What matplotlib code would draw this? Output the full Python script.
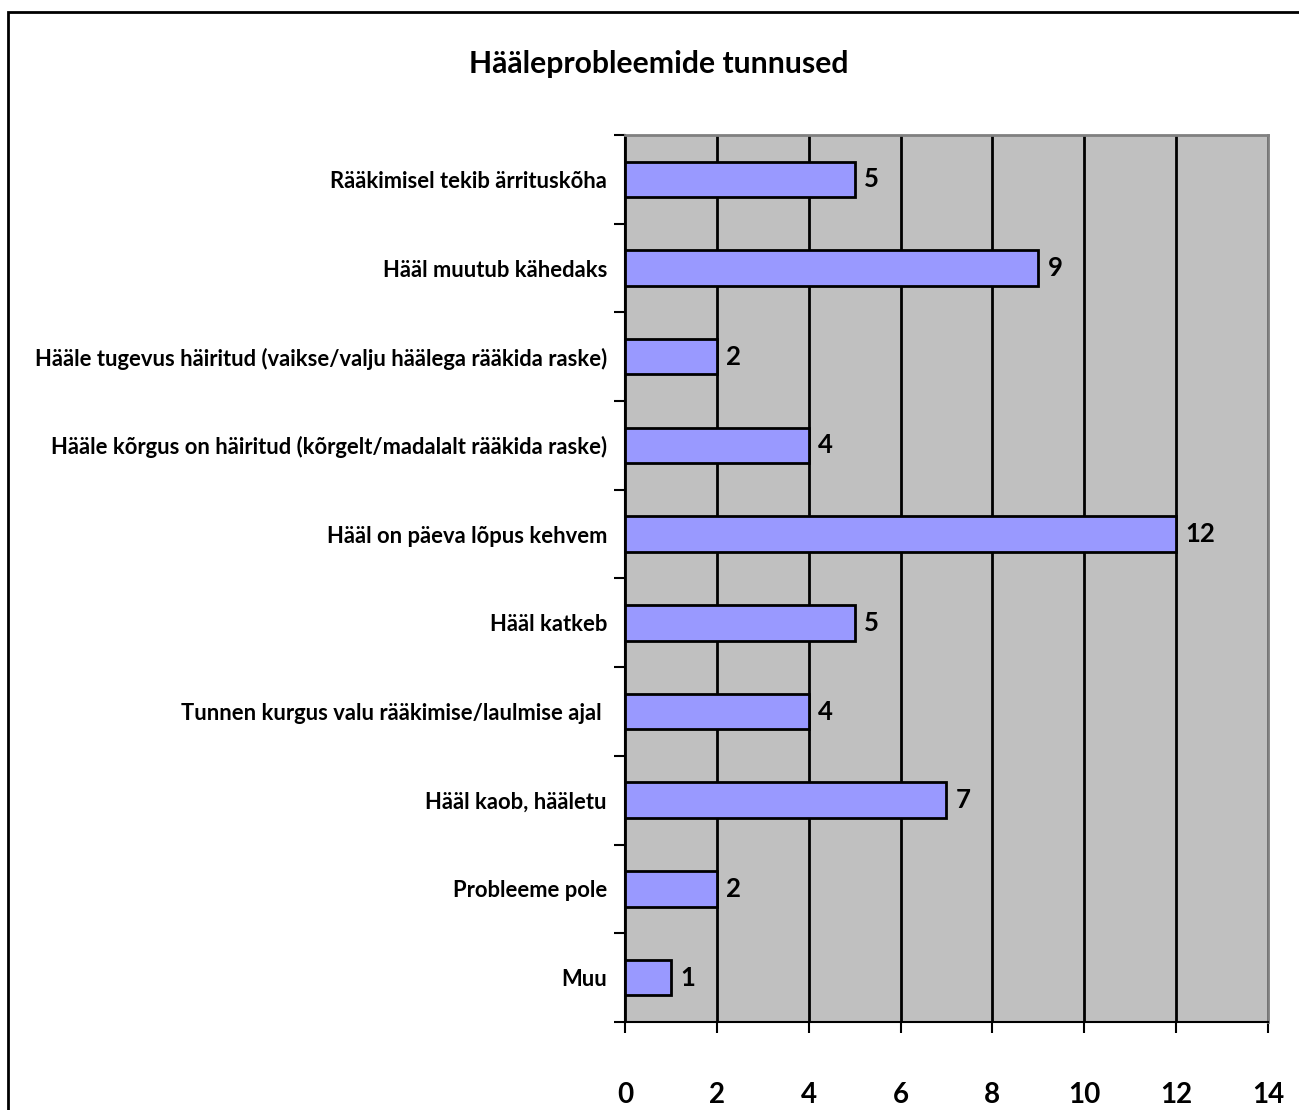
import numpy as np
import matplotlib
matplotlib.use("Agg")
import matplotlib.pyplot as plt
from matplotlib.patches import Rectangle

plt.rcParams['font.family'] = ['Lato', 'DejaVu Sans']
plt.rcParams['font.weight'] = 'bold'

# andmed ülalt alla
categories = [
    "Rääkimisel tekib ärrituskõha",
    "Hääl muutub kähedaks",
    "Hääle tugevus häiritud (vaikse/valju häälega rääkida raske)",
    "Hääle kõrgus on häiritud (kõrgelt/madalalt rääkida raske)",
    "Hääl on päeva lõpus kehvem",
    "Hääl katkeb",
    "Tunnen kurgus valu rääkimise/laulmise ajal ",
    "Hääl kaob, hääletu",
    "Probleeme pole",
    "Muu",
]
values = [5, 9, 2, 4, 12, 5, 4, 7, 2, 1]
x_ticks = [0, 2, 4, 6, 8, 10, 12, 14]
title = "Hääleprobleemide tunnused"

fig = plt.figure(figsize=(12.99, 11.10), dpi=100)
ax = fig.add_axes([0.4811, 0.0793, 0.4950, 0.7991])
ax.set_facecolor('#C0C0C0')

n = len(categories)
pos = np.arange(n)
ax.barh(pos, values, height=0.4, color='#9999FF', edgecolor='black', linewidth=2, zorder=3)

# väärtused tulpade kõrval
for p, v in zip(pos, values):
    ax.text(v + 0.2, p, str(v), va='center', ha='left', fontsize=18.5, fontweight='bold', zorder=4)

ax.set_xlim(0, 14)
ax.set_ylim(n - 0.5, -0.5)
ax.set_xticks(x_ticks)
ax.set_xticklabels([str(t) for t in x_ticks], fontsize=20, fontweight='bold')
ax.tick_params(axis='x', direction='out', length=8, width=1.5, pad=35)
ax.grid(axis='x', color='black', linewidth=2, zorder=1)
ax.set_axisbelow(True)

# tikid kategooriate vahel, sildid keskel
ax.set_yticks(np.arange(-0.5, n, 1.0))
ax.set_yticklabels([])
ax.set_yticks(pos, minor=True)
ax.set_yticklabels(categories, minor=True, fontsize=15.8, fontweight='bold')
ax.tick_params(axis='y', which='major', direction='out', length=8, width=1.5)
ax.tick_params(axis='y', which='minor', length=0, pad=13)

for s in ['left', 'bottom']:
    ax.spines[s].set_color('black')
    ax.spines[s].set_linewidth(1.5)
for s in ['top', 'right']:
    ax.spines[s].set_color('#808080')
    ax.spines[s].set_linewidth(2)

fig.text(0.5073, 1 - 64 / 1110, title, ha='center', va='center', fontsize=21.7, fontweight='bold')

# raam ümber (parem ja alumine serv jäävad pildist välja)
fig.patches.append(Rectangle((8 / 1299, -0.05), 1.2, 0.05 + 1 - 12 / 1110, transform=fig.transFigure,
                             fill=False, edgecolor='black', linewidth=2))

fig.savefig('out.png', dpi=100)
